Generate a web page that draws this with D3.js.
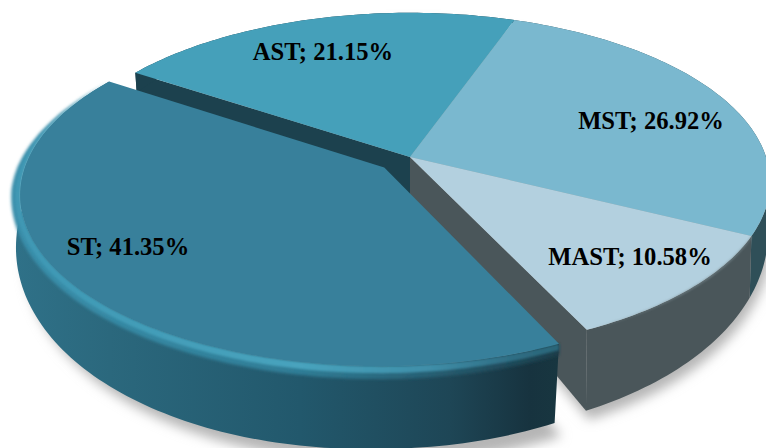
<!DOCTYPE html>
<html>
<head>
<meta charset="utf-8">
<style>
  html, body { margin: 0; padding: 0; background: #fff; }
  svg { display: block; }
  text { font-family: "Liberation Serif", serif; font-weight: bold; font-size: 24.6px; fill: #000; }
</style>
<script src="https://cdnjs.cloudflare.com/ajax/libs/d3/7.8.5/d3.min.js"></script>
</head>
<body>
<div id="container"></div>
<script>
const categories = ['AST', 'MST', 'MAST', 'ST'];
const percents = [21.15, 26.92, 10.58, 41.35];
const faceColors = ['#45a0ba', '#7ab8cf', '#b3d0df', '#37809b'];
const wallColors = ['#1c414e', '#2f4f58', '#4a565a', '#21576b'];
const labelPos = [[323, 54], [651, 123], [630, 259], [128, 249]];

const width = 766, height = 448;
const cx = 410, cy = 157;
const a = 356, b = 165.7, k = 0.149; // ellipse radii and perspective strength
const startDeg = -56.6;
const explode = [0, 0, 0, 0.095];

const svg = d3.select('#container').append('svg')
  .attr('width', width).attr('height', height);
const defs = svg.append('defs');

function blur(id, dev) {
  defs.append('filter').attr('id', id)
    .attr('x', '-10%').attr('y', '-10%').attr('width', '120%').attr('height', '120%')
    .append('feGaussianBlur').attr('stdDeviation', dev);
}
blur('soft', 0.6);
blur('rim1', 1);
blur('rim2', 1.8);
blur('shadow', 6);

function hGrad(id, stops) {
  const g = defs.append('linearGradient').attr('id', id)
    .attr('gradientUnits', 'userSpaceOnUse')
    .attr('x1', 0).attr('x2', width).attr('y1', 0).attr('y2', 0);
  stops.forEach(s => g.append('stop').attr('offset', s[0] / width).attr('stop-color', s[1]));
}
hGrad('stWall', [[15, '#2f7188'], [110, '#2b687d'], [300, '#22586c'], [450, '#1e4656'], [530, '#17333f'], [558, '#183640']]);
hGrad('stRim', [[12, '#3f98b4'], [300, '#48a3bd'], [430, '#3f8ea8'], [510, '#2f6e84'], [560, '#2a6578']]);
hGrad('stRimDark', [[12, '#3a8fab'], [300, '#2f7d96'], [430, '#275f73'], [510, '#1f4a5a'], [560, '#1b3d4a']]);

const pie = d3.pie().sort(null).value(d => d)
  .startAngle(startDeg * Math.PI / 180)
  .endAngle((startDeg + 360) * Math.PI / 180);
const slices = pie(percents);

// unit circle position -> screen, z = 1 is the lower plane of the disc
function project(u, v, z) {
  const s = 1 / (1 - k * v);
  const drop = z ? 43 + 42 * v : 0;
  return [cx + a * u * s * (z ? 0.995 : 1), cy + b * v * s + drop];
}
function offset(i) {
  const sl = slices[i], mid = (sl.startAngle + sl.endAngle) / 2;
  return [explode[i] * Math.sin(mid), -explode[i] * Math.cos(mid)];
}
function angles(from, to) {
  const n = Math.max(2, Math.ceil(Math.abs(to - from) / 0.02));
  return d3.range(n + 1).map(j => from + (to - from) * j / n);
}
function arcPoints(i, rFn, z, from, to) {
  const o = offset(i);
  return angles(from, to).map(t => {
    const r = rFn(t);
    return project(o[0] + r * Math.sin(t), o[1] - r * Math.cos(t), z);
  });
}
const unit = () => 1;
const line = d3.line().curve(d3.curveLinear);

function sectorPath(i, z) {
  const sl = slices[i], o = offset(i);
  return line([project(o[0], o[1], z)].concat(arcPoints(i, unit, z, sl.startAngle, sl.endAngle))) + 'Z';
}
function outerWall(i, rBottom) {
  const sl = slices[i];
  return line(arcPoints(i, unit, 0, sl.startAngle, sl.endAngle)
    .concat(arcPoints(i, rBottom, 1, sl.endAngle, sl.startAngle))) + 'Z';
}
function cutWall(i, angle) {
  const o = offset(i);
  const edge = [o[0] + Math.sin(angle), o[1] - Math.cos(angle)];
  return line([project(o[0], o[1], 0), project(edge[0], edge[1], 0),
    project(edge[0], edge[1], 1), project(o[0], o[1], 1)]) + 'Z';
}
// band that hangs off the outer edge of a face, thinning out towards the far end
function rimBand(i, w, taper) {
  const sl = slices[i];
  const ts = angles(sl.startAngle, sl.endAngle);
  const inner = arcPoints(i, unit, 0, sl.startAngle, sl.endAngle);
  const outer = ts.map((t, j) => {
    const width = w * Math.min(1, (sl.endAngle - t) / taper);
    return [inner[j][0] + 0.7 * width * Math.min(0, Math.sin(t)),
      inner[j][1] + width * Math.max(0, -Math.cos(t))];
  });
  return line(inner.concat(outer.reverse())) + 'Z';
}

// soft shadow under the disc
svg.append('g').attr('transform', 'translate(3,9)').attr('filter', 'url(#shadow)')
  .selectAll('path').data(slices).join('path')
  .attr('d', (d, i) => sectorPath(i, 1))
  .attr('fill', '#b5b5b5');

const walls = svg.append('g');
[1, 0, 2, 3].forEach(i => {
  const sl = slices[i];
  const isSt = categories[i] === 'ST';
  const wallFill = isSt ? 'url(#stWall)' : wallColors[i];
  if (categories[i] === 'AST') {
    walls.append('path').attr('d', cutWall(i, sl.startAngle)).attr('fill', wallFill);
  }
  if (categories[i] === 'MAST') {
    walls.append('path').attr('d', cutWall(i, sl.endAngle)).attr('fill', wallFill);
  }
  const rBottom = isSt ? (t => 0.982 + 0.035 * Math.max(0, -Math.sin(t))) : unit;
  walls.append('path').attr('d', outerWall(i, rBottom)).attr('fill', wallFill);
});

const faces = svg.append('g');
const rad = Math.PI / 180;
[2, 1, 0, 3].forEach(i => {
  const cat = categories[i];
  if (cat === 'ST') {
    faces.append('path').attr('d', rimBand(i, 13, 40 * rad))
      .attr('fill', 'url(#stRimDark)').attr('filter', 'url(#rim2)');
    faces.append('path').attr('d', rimBand(i, 7, 40 * rad))
      .attr('fill', 'url(#stRim)').attr('filter', 'url(#rim1)');
  }
  faces.append('path').attr('d', sectorPath(i, 0))
    .attr('fill', faceColors[i]).attr('filter', 'url(#soft)');
  if (cat === 'MAST') {
    faces.append('path').attr('d', rimBand(i, 5, 1))
      .attr('fill', '#7f9299').attr('filter', 'url(#rim1)');
  }
});

svg.append('g').selectAll('text').data(categories).join('text')
  .attr('x', (d, i) => labelPos[i][0])
  .attr('y', (d, i) => labelPos[i][1])
  .attr('text-anchor', 'middle')
  .attr('dominant-baseline', 'middle')
  .text((d, i) => `${d}; ${percents[i].toFixed(2)}%`);
</script>
</body>
</html>
